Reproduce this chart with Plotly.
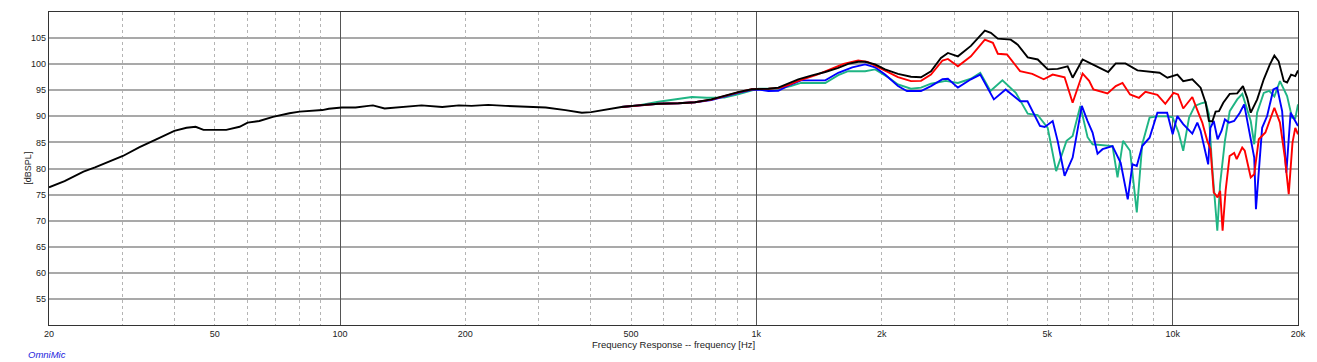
import plotly.graph_objects as go

# ---------------- data ----------------
black_f = [20, 21.8, 24.2, 25.8, 30.1, 33, 36.2, 40, 42.8, 45, 47, 53.3, 57.4, 60, 64, 69, 75.6, 80,
           90.7, 94, 101, 109, 117, 120, 128, 141, 157, 176, 193, 207, 227, 250, 279, 312, 348, 381,
           401, 433, 474, 520, 582, 650, 712, 780, 838, 904, 975, 1011, 1069, 1129, 1193, 1261, 1354,
           1464, 1573, 1662, 1756, 1825, 1929, 2038, 2189, 2352, 2486, 2627, 2776, 2885, 3049, 3276,
           3539, 3658, 3802, 4084, 4245, 4486, 4741, 5010, 5293, 5594, 5751, 6077, 6421, 6785, 7000,
           7300, 7700, 8230, 8697, 9300, 9712, 10263, 10600, 11148, 11670, 12000, 12220, 12450,
           12680, 12920, 13230, 13710, 14290, 14750, 15100, 15400, 15960, 16550, 17120, 17550,
           17970, 18490, 18830, 19250, 19700, 20000]
black_db = [76.4, 77.6, 79.4, 80.2, 82.4, 84.1, 85.6, 87.2, 87.8, 88.0, 87.4, 87.4, 88.0, 88.8, 89.1,
            89.9, 90.6, 90.9, 91.2, 91.45, 91.7, 91.7, 92.0, 92.1, 91.5, 91.8, 92.1, 91.8, 92.1, 92.0,
            92.2, 92.0, 91.8, 91.7, 91.2, 90.7, 90.8, 91.2, 91.8, 92.1, 92.4, 92.5, 92.7, 93.25, 94.0,
            94.65, 95.2, 95.2, 95.3, 95.5, 96.25, 97.1, 97.8, 98.5, 99.3, 100.05, 100.45, 100.45,
            99.95, 99.0, 98.15, 97.6, 97.5, 98.65, 101.2, 102.15, 101.5, 103.5, 106.45, 106.0, 104.9,
            104.7, 103.75, 101.3, 100.9, 99.0, 99.1, 99.6, 97.4, 100.9, 99.95, 99.0, 98.5, 100.15,
            100.15, 98.8, 98.55, 98.35, 97.4, 98.0, 96.75, 97.1, 95.5, 92.6, 89.1, 89.0, 90.9, 91.0,
            92.6, 94.3, 94.4, 95.8, 93.55, 90.7, 93.25, 97.1, 99.95, 101.65, 100.55, 96.75, 96.5,
            98.0, 97.7, 98.8]

red_f = [474, 520, 582, 650, 712, 780, 838, 904, 975, 1011, 1069, 1129, 1193, 1261, 1400, 1620, 1756,
         1850, 2038, 2189, 2352, 2486, 2627, 2800, 2885, 3049, 3276, 3539, 3700, 3802, 4000, 4300,
         4600, 4900, 5150, 5500, 5751, 6077, 6300, 6450, 6975, 7300, 7577, 7900, 8300, 8600, 9190,
         9600, 10050, 10300, 10600, 11148, 11460, 11780, 12110, 12330, 12550, 12820, 13000, 13180,
         13400, 13700, 14050, 14250, 14690, 14900, 15400, 15700, 16100, 16700, 17550, 18100, 18600,
         19000, 19400, 19700, 20000]
red_db = [91.8, 92.1, 92.4, 92.5, 92.7, 93.2, 93.9, 94.6, 95.2, 95.2, 95.3, 95.4, 96.0, 96.8, 98.0,
          100.05, 100.7, 100.45, 98.8, 97.5, 96.75, 96.8, 98.0, 100.7, 101.0, 99.6, 101.5, 104.7,
          104.1, 102.0, 101.85, 98.65, 98.15, 97.1, 98.0, 97.5, 92.6, 98.2, 96.8, 95.15, 94.4, 95.8,
          96.4, 94.2, 93.55, 94.7, 94.1, 92.4, 94.5, 94.2, 91.5, 93.7, 91.2, 88.8, 85.3, 83.7, 75.4,
          74.45, 75.7, 68.1, 75.7, 82.4, 83.0, 81.8, 84.0, 83.4, 78.3, 78.9, 85.6, 86.9, 91.65, 88.8,
          82.1, 75.1, 84.95, 87.8, 86.55]

blue_f = [474, 520, 582, 650, 712, 780, 838, 904, 975, 1011, 1069, 1129, 1210, 1280, 1464, 1573, 1700,
          1825, 1929, 2038, 2189, 2300, 2486, 2627, 2800, 2885, 3049, 3276, 3450, 3720, 3970, 4300,
          4480, 4800, 4928, 5150, 5293, 5500, 5751, 6050, 6246, 6421, 6600, 6785, 7170, 7500, 7800,
          8007, 8200, 8450, 8800, 9190, 9700, 10000, 10263, 10600, 11148, 11460, 11670, 12000, 12170,
          12320, 12550, 12820, 13100, 13350, 13650, 14050, 14500, 14850, 15400, 15700, 15850, 16400,
          16860, 17450, 17820, 18320, 18750, 19200, 20000]
blue_db = [91.8, 92.1, 92.4, 92.5, 92.7, 93.1, 93.8, 94.5, 95.1, 95.15, 94.85, 94.9, 96.1, 96.9, 96.9,
           98.35, 99.4, 99.95, 99.4, 98.0, 95.8, 94.85, 94.85, 95.8, 97.1, 97.2, 95.5, 97.1, 98.0,
           93.25, 95.15, 92.9, 92.9, 88.15, 87.95, 89.1, 85.3, 78.6, 82.1, 92.0, 89.1, 86.9, 82.85,
           83.7, 84.3, 81.1, 74.1, 80.8, 80.5, 84.3, 85.9, 90.7, 90.7, 86.55, 90.05, 88.5, 86.7, 88.8,
           87.2, 82.7, 80.8, 87.8, 89.1, 85.6, 87.2, 89.4, 88.8, 89.1, 90.7, 92.3, 85.9, 82.1, 72.2,
           87.8, 90.05, 95.15, 95.5, 91.0, 79.2, 90.7, 88.15]

green_f = [474, 520, 582, 650, 700, 760, 838, 904, 975, 1011, 1129, 1210, 1280, 1464, 1573, 1662, 1825,
           1929, 2080, 2189, 2352, 2486, 2627, 2850, 3049, 3276, 3450, 3650, 3900, 4200, 4486, 4741,
           5010, 5250, 5560, 5751, 6000, 6246, 6421, 6700, 7170, 7371, 7600, 7900, 8200, 8450, 8800,
           9190, 9712, 10000, 10330, 10600, 10950, 11300, 11700, 12000, 12220, 12430, 12800, 13000,
           13350, 13710, 14290, 14700, 15400, 15700, 15950, 16550, 17050, 17550, 18100, 18830, 19350,
           19700, 20000]
green_db = [91.8, 92.1, 92.8, 93.3, 93.7, 93.55, 93.6, 94.2, 95.0, 95.3, 95.3, 95.8, 96.4, 96.4, 97.9,
            98.65, 98.65, 99.0, 97.4, 96.1, 95.3, 95.5, 96.25, 96.8, 96.4, 97.2, 98.35, 94.85, 96.9,
            94.5, 90.5, 90.25, 87.8, 79.5, 85.3, 86.25, 92.0, 86.0, 84.65, 84.5, 84.3, 78.3, 85.3,
            83.4, 71.6, 84.65, 89.75, 90.0, 90.0, 89.8, 86.9, 83.4, 89.75, 92.0, 92.5, 92.7, 90.4,
            80.8, 68.1, 77.0, 85.3, 91.0, 93.25, 94.3, 89.1, 84.65, 90.7, 94.5, 94.9, 93.8, 96.75,
            93.9, 89.75, 89.6, 92.3]

x_tick_vals = [20, 50, 100, 200, 500, 1000, 2000, 5000, 10000, 20000]
x_tick_text = ["20", "50", "100", "200", "500", "1k", "2k", "5k", "10k", "20k"]
x_minor_vals = [30, 40, 50, 60, 70, 80, 90, 200, 300, 400, 500, 600, 700, 800, 900,
                2000, 3000, 4000, 5000, 6000, 7000, 8000, 9000]
x_decades = [100, 1000, 10000]
y_tick_vals = [55, 60, 65, 70, 75, 80, 85, 90, 95, 100, 105]

# ---------------- figure ----------------
FONT = "Liberation Sans, Arial, sans-serif"
fig = go.Figure()

series = [
    (green_f, green_db, "#1fb584"),
    (blue_f, blue_db, "#0000ff"),
    (red_f, red_db, "#ff0000"),
    (black_f, black_db, "#000000"),
]
for f, d, c in series:
    fig.add_trace(go.Scatter(x=f, y=d, mode="lines", line=dict(color=c, width=1.9),
                             showlegend=False, hoverinfo="skip"))

# invisible trace to anchor decade gridline axis
fig.add_trace(go.Scatter(x=[20, 20000], y=[50, 50], xaxis="x2", mode="lines",
                         line=dict(width=0), showlegend=False, hoverinfo="skip"))

fig.update_layout(
    width=1317, height=362,
    margin=dict(l=49, r=12, t=11, b=37),
    paper_bgcolor="white", plot_bgcolor="white",
    font=dict(family=FONT, size=9, color="#222"),
    xaxis=dict(
        type="log", range=[1.30103, 4.30103],
        tickvals=x_tick_vals, ticktext=x_tick_text,
        showgrid=False, zeroline=False,
        showline=True, mirror=True, linecolor="#333", linewidth=1.2,
        ticks="", tickfont=dict(size=9, color="#222"),
        minor=dict(tickvals=x_minor_vals, showgrid=True, gridcolor="#b4b4b4",
                   griddash="dot", gridwidth=1, ticks=""),
        layer="below traces",
    ),
    xaxis2=dict(
        type="log", range=[1.30103, 4.30103], overlaying="x", anchor="y",
        tickvals=x_decades, showticklabels=False, showgrid=True,
        gridcolor="#555555", gridwidth=1.2, zeroline=False, showline=False, ticks="",
        layer="below traces",
    ),
    yaxis=dict(
        range=[50, 110], tickvals=y_tick_vals,
        showgrid=True, gridcolor="#a9a9a9", gridwidth=1.5, zeroline=False,
        showline=True, mirror=True, linecolor="#333", linewidth=1.2,
        ticks="", tickfont=dict(size=9, color="#222"),
        layer="below traces",
    ),
    annotations=[
        dict(text="Frequency Response -- frequency [Hz]", xref="paper", yref="paper",
             x=0.5, y=-0.061, xanchor="center", yanchor="middle", showarrow=False,
             font=dict(family=FONT, size=9.5, color="#222")),
        dict(text="<i>OmniMic</i>", xref="paper", yref="paper", x=-0.0185, y=-0.095,
             xanchor="left", yanchor="middle", showarrow=False,
             font=dict(family=FONT, size=9.5, color="#2222dd")),
        dict(text="[dBSPL]", xref="paper", yref="paper", x=-0.0175, y=0.5,
             xanchor="center", yanchor="middle", textangle=-90, showarrow=False,
             font=dict(family=FONT, size=9, color="#222")),
    ],
)

fig.write_html("out.html", config={"displayModeBar": False},
               post_script="document.body.style.margin='0';")
